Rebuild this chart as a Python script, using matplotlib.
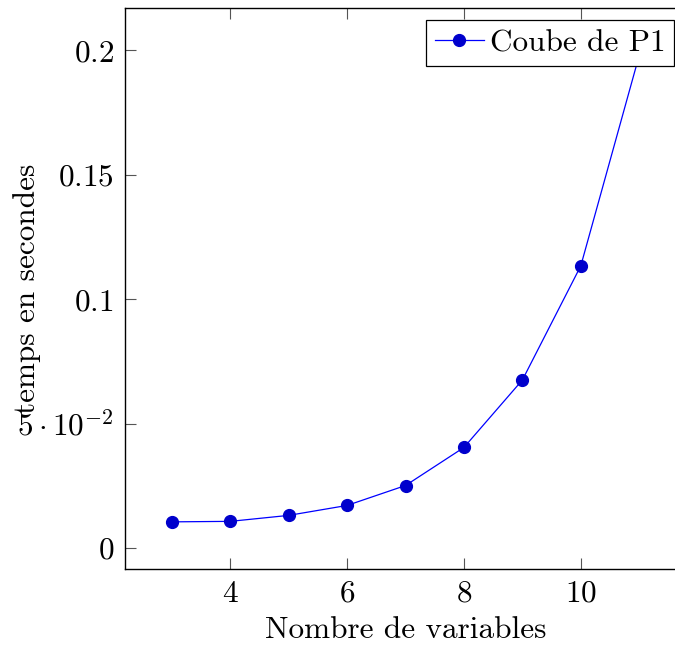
import matplotlib

matplotlib.use("Agg")

import matplotlib.pyplot as plt
from matplotlib.ticker import FixedLocator, FixedFormatter

nb_variables = [3, 4, 5, 6, 7, 8, 9, 10, 11]
temps = [0.0105, 0.0107, 0.0131, 0.0171, 0.0251, 0.0404, 0.0675, 0.1134, 0.198]

y_ticks = [0, 0.05, 0.1, 0.15, 0.2]
y_tick_labels = ["$0$", r"$5\cdot10^{-2}$", "$0.1$", "$0.15$", "$0.2$"]
x_ticks = [4, 6, 8, 10]

plt.rcParams["font.family"] = "serif"
plt.rcParams["font.serif"] = ["cmr10"]
plt.rcParams["mathtext.fontset"] = "cm"
plt.rcParams["axes.unicode_minus"] = False

FS = 22.5

fig = plt.figure(figsize=(6.75, 6.47), dpi=100)
ax = fig.add_axes([0.1852, 0.1213, 0.8311, 0.8656])

ax.plot(nb_variables, temps, color="#0000ff", linewidth=0.9,
        marker="o", markersize=8.5, markerfacecolor="#0000cc",
        markeredgecolor="#0000cc", label="Coube de P1", clip_on=True)

ax.set_xlim(2.2, 11.8)
ax.set_ylim(-0.00825, 0.2168)

ax.xaxis.set_major_locator(FixedLocator(x_ticks))
ax.set_xticklabels([f"${v}$" for v in x_ticks])
ax.yaxis.set_major_locator(FixedLocator(y_ticks))
ax.yaxis.set_major_formatter(FixedFormatter(y_tick_labels))

ax.tick_params(direction="in", length=8, width=0.8, color="#555555",
               top=True, right=True, labelsize=FS, pad=8)

for side in ax.spines.values():
    side.set_linewidth(1.0)

ax.set_xlabel("Nombre de variables", fontsize=FS, labelpad=6)
ax.set_ylabel("temps en secondes", fontsize=FS)
ax.yaxis.set_label_coords(-0.15, 0.5)

leg = ax.legend(loc="upper right", fontsize=FS, frameon=True, fancybox=False,
                edgecolor="black", framealpha=1, borderaxespad=0.38,
                handlelength=1.55, handletextpad=0.2, borderpad=0.28)
leg.get_frame().set_linewidth(0.9)
leg.set_zorder(5)

fig.savefig("out.png", dpi=100)
